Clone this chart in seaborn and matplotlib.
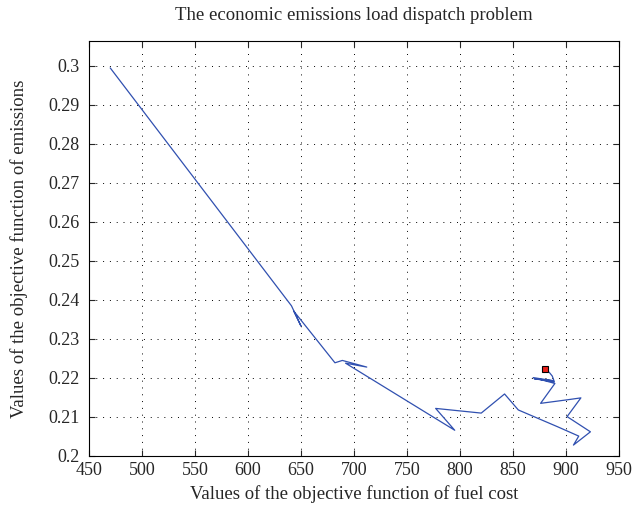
import matplotlib
matplotlib.use("Agg")
import matplotlib.pyplot as plt
import numpy as np
import pandas as pd
import seaborn as sns

# path of the search (fuel cost, emissions)
fuel_cost = [470, 641, 650, 643, 682, 689, 712, 692, 795, 777, 820, 842, 855,
             892, 912, 907, 923, 901, 914, 901, 876, 889.5, 869, 888, 870, 889, 887, 884]
emissions = [0.2995, 0.2385, 0.2333, 0.2372, 0.2239, 0.2245, 0.2228, 0.2238,
             0.2066, 0.2122, 0.2110, 0.2159, 0.2118, 0.2075, 0.2051, 0.2028, 0.2062,
             0.2101, 0.2149, 0.2144, 0.2135, 0.2186, 0.2201, 0.2193, 0.2198, 0.2190,
             0.2205, 0.2215]
best_cost = [880]
best_emis = [0.2222]

x_ticks = [450, 500, 550, 600, 650, 700, 750, 800, 850, 900, 950]
y_ticks = [0.2, 0.21, 0.22, 0.23, 0.24, 0.25, 0.26, 0.27, 0.28, 0.29, 0.3]

sns.set_style("ticks")
plt.rcParams['font.family'] = ['Liberation Serif', 'DejaVu Serif']

df = pd.DataFrame({'Fuel': fuel_cost, 'Emis': emissions})

fig = plt.figure(figsize=(6.34, 5.17), dpi=100)
ax = fig.add_axes([0.1404, 0.118, 0.836, 0.8027])

sns.lineplot(x='Fuel', y='Emis', data=df, sort=False, estimator=None,
             color='#3050b0', linewidth=0.9, ax=ax)
ax.plot(best_cost, best_emis, 's', markersize=5, markerfacecolor='#e8201a',
        markeredgecolor='black', markeredgewidth=0.8)

ax.set_xlim(450, 950)
ax.set_ylim(0.2, 0.3064)
ax.set_xticks(x_ticks)
ax.set_yticks(y_ticks)
ax.set_yticklabels(['%g' % v for v in y_ticks])
ax.grid(True, linestyle=(0, (1, 6)), color='black', linewidth=0.7)
ax.tick_params(direction='in', top=True, right=True, labelsize=13, length=4,
               width=0.8)
ax.tick_params(axis='y', pad=7)
ax.tick_params(axis='x', pad=4)
for s in ax.spines.values():
    s.set_linewidth(0.8)
    s.set_color('black')

ax.set_title('The economic emissions load dispatch problem', fontsize=13.5, pad=15)
ax.set_xlabel('Values of the objective function of fuel cost', fontsize=13.5, labelpad=5)
ax.set_ylabel('Values of the objective function of emissions', fontsize=13.5, labelpad=14)

fig.savefig('out.png', dpi=100)
